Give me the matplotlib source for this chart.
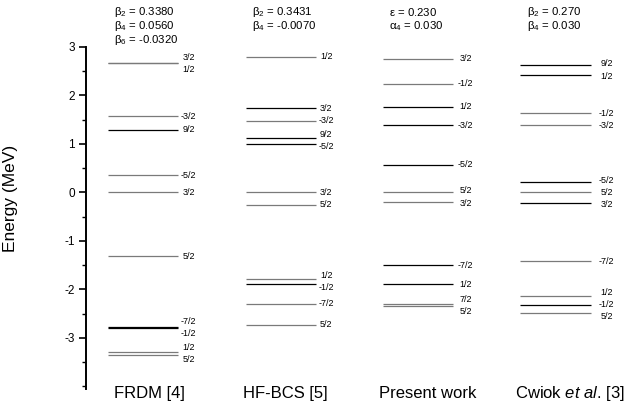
import matplotlib

matplotlib.use("Agg")
import matplotlib.pyplot as plt
from matplotlib.ticker import MultipleLocator

plt.rcParams["font.family"] = ["Liberation Sans", "DejaVu Sans"]
plt.rcParams["mathtext.fontset"] = "custom"
plt.rcParams["mathtext.rm"] = "Liberation Sans"
plt.rcParams["mathtext.it"] = "Liberation Sans:italic"
plt.rcParams["mathtext.default"] = "regular"
plt.rcParams["axes.unicode_minus"] = False

# column titles
columns = ["FRDM [4]", "HF-BCS [5]", "Present work", r"Cwiok $\mathit{et\ al}$. [3]"]

# deformation parameters printed above each column
frdm_params = [r"$\beta_2$ = 0.3380", r"$\beta_4$ = 0.0560", r"$\beta_6$ = -0.0320"]
hf_params = [r"$\beta_2$ = 0.3431", r"$\beta_4$ = -0.0070"]
pw_params = [r"$\varepsilon$ = 0.230", r"$\alpha_4$ = 0.030"]
cw_params = [r"$\beta_2$ = 0.270", r"$\beta_4$ = 0.030"]

# level energies (MeV), Omega labels, group (1 = black, 0 = grey)
frdm_energy = [2.67, 2.66, 1.57, 1.29, 0.35, 0.0, -1.32, -2.78, -2.79, -3.28, -3.35]
frdm_omega = ["3/2", "1/2", "-3/2", "9/2", "-5/2", "3/2", "5/2", "-7/2", "-1/2", "1/2", "5/2"]
frdm_group = [0, 0, 0, 1, 0, 0, 0, 1, 1, 0, 0]

hf_energy = [2.80, 1.74, 1.48, 1.13, 1.00, 0.0, -0.25, -1.78, -1.89, -2.29, -2.73]
hf_omega = ["1/2", "3/2", "-3/2", "9/2", "-5/2", "3/2", "5/2", "1/2", "-1/2", "-7/2", "5/2"]
hf_group = [0, 1, 0, 1, 1, 0, 0, 0, 1, 0, 0]

pw_energy = [2.76, 2.24, 1.77, 1.39, 0.57, 0.0, -0.19, -1.50, -1.89, -2.31, -2.35]
pw_omega = ["3/2", "-1/2", "1/2", "-3/2", "-5/2", "5/2", "3/2", "-7/2", "1/2", "7/2", "5/2"]
pw_group = [0, 0, 1, 1, 1, 0, 0, 1, 1, 0, 0]

cw_energy = [2.62, 2.43, 1.63, 1.38, 0.21, 0.0, -0.21, -1.42, -2.14, -2.32, -2.49]
cw_omega = ["9/2", "1/2", "-1/2", "-3/2", "-5/2", "5/2", "3/2", "-7/2", "1/2", "-1/2", "5/2"]
cw_group = [1, 1, 0, 0, 1, 0, 1, 0, 0, 1, 0]

energies = [frdm_energy, hf_energy, pw_energy, cw_energy]
omegas = [frdm_omega, hf_omega, pw_omega, cw_omega]
groups = [frdm_group, hf_group, pw_group, cw_group]
params = [frdm_params, hf_params, pw_params, cw_params]

COLORS = {1: "black", 0: "#7a7a7a"}
HALF = 0.255
LABEL_DX = [0.075, 0.078, 0.09, 0.115]
TITLE_DX = [0.044, 0.036, 0.073, 0.105]


def spread(vals, gap):
    order = sorted(range(len(vals)), key=lambda i: -vals[i])
    pos = [vals[i] for i in order]
    for _ in range(60):
        for j in range(len(pos) - 1):
            d = pos[j] - pos[j + 1]
            if d < gap:
                s = (gap - d) / 2
                pos[j] += s
                pos[j + 1] -= s
    out = [0.0] * len(vals)
    for k, i in enumerate(order):
        out[i] = pos[k]
    return out


fig = plt.figure(figsize=(6.28, 4.03), dpi=100)
ax = fig.add_axes([0.137, 0.035, 0.863, 0.8486])

for c, (en, om, gr, par) in enumerate(zip(energies, omegas, groups, params)):
    xc = c + 1
    for e, g in zip(en, gr):
        ax.plot([xc - HALF, xc + HALF], [e, e], color=COLORS[g], lw=0.9, solid_capstyle="butt")
    for e, lab in zip(spread(en, 0.25), om):
        ax.text(xc + HALF + LABEL_DX[c], e, lab, ha="center", va="center", fontsize=6.5)
    for k, t in enumerate(par):
        ax.text(xc - 0.21, 3.72 - 0.29 * k, t, ha="left", va="center", fontsize=8.2, clip_on=False)
    ax.text(xc + TITLE_DX[c], -4.14, columns[c], ha="center", va="center", fontsize=12, clip_on=False)

ax.set_xlim(0.585, 4.527)
ax.set_ylim(-4.05, 3.0)
for side in ("top", "right", "bottom"):
    ax.spines[side].set_visible(False)
ax.spines["left"].set_linewidth(1.4)
ax.set_xticks([])
ax.yaxis.set_major_locator(MultipleLocator(1))
ax.yaxis.set_minor_locator(MultipleLocator(0.5))
ax.tick_params(axis="y", which="major", direction="out", length=5, width=1.2, labelsize=8.5, pad=3)
ax.tick_params(axis="y", which="minor", direction="out", length=3, width=1.0)
ax.set_yticks(range(-3, 4))
ax.set_ylabel("Energy (MeV)", fontsize=12.5)
ax.yaxis.set_label_coords(-0.125, 0.558)

fig.savefig("out.png")
